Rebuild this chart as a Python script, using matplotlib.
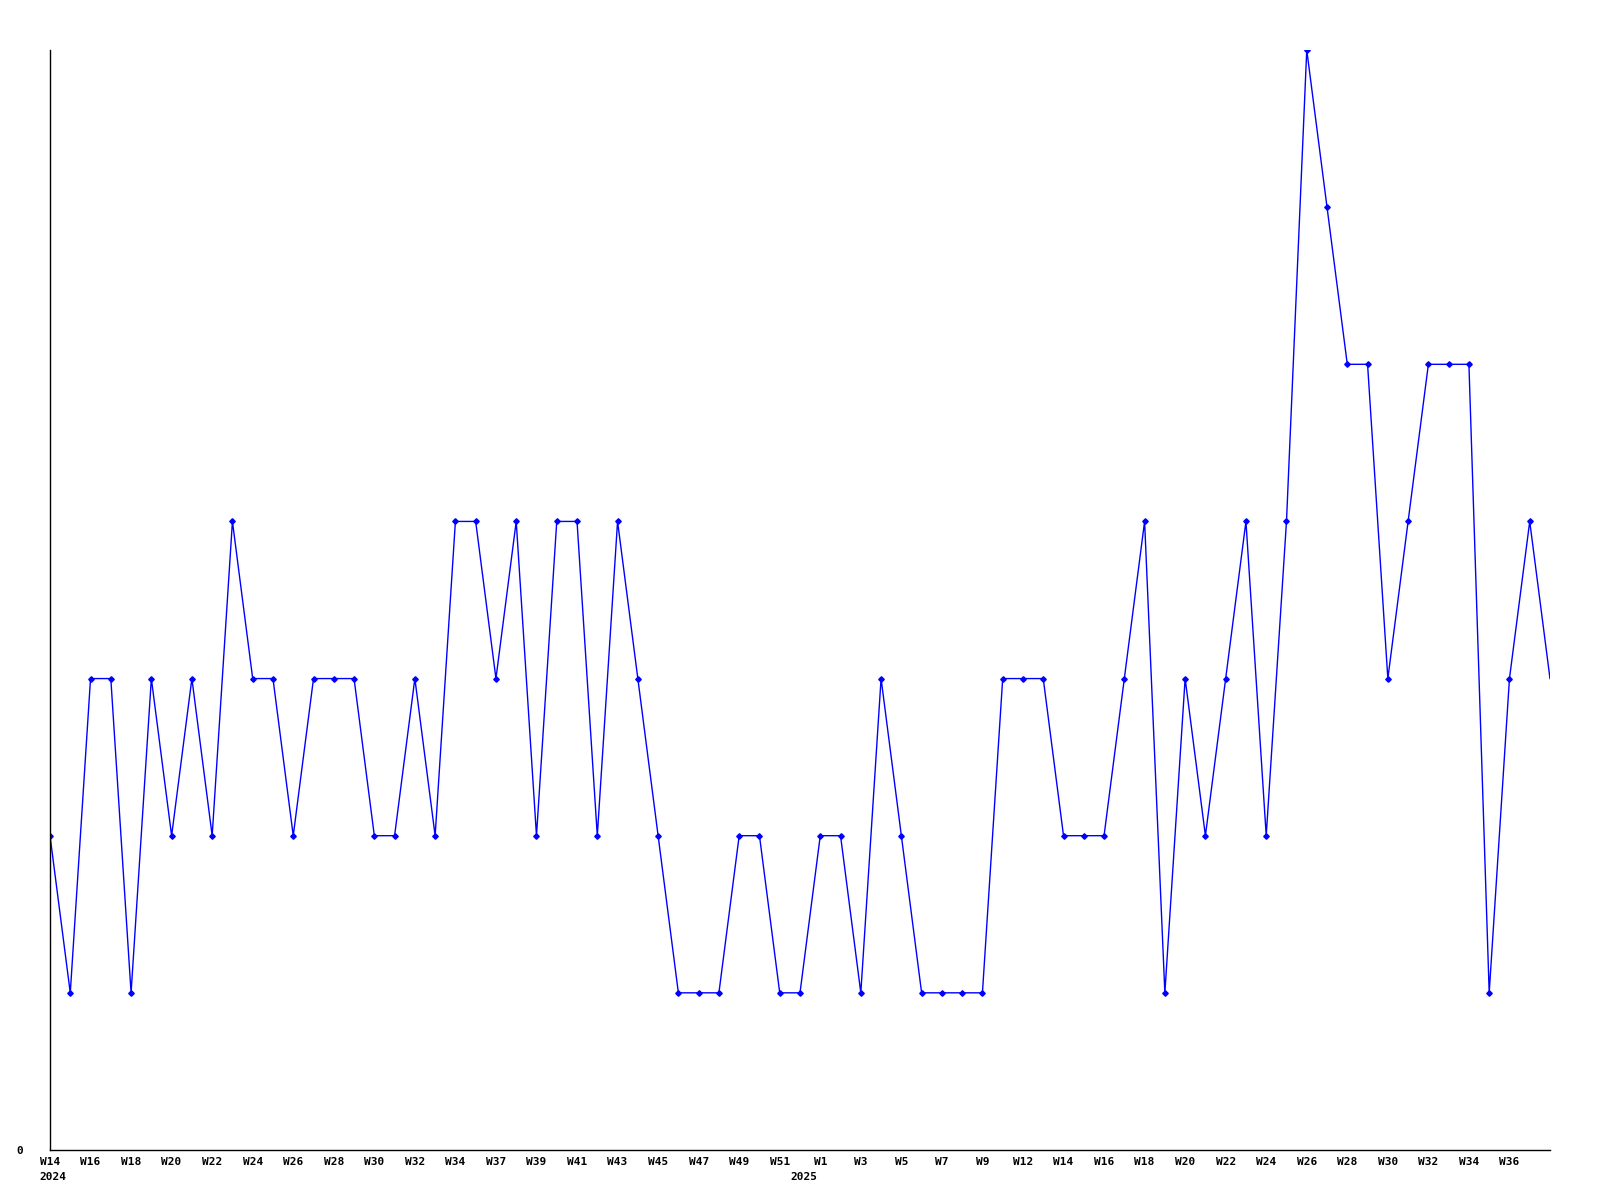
import numpy as np
import matplotlib
matplotlib.use("Agg")
import matplotlib.pyplot as plt

# week number of every point (two weeks are absent from the source)
weeks_2024 = [14, 15, 16, 17, 18, 19, 20, 21, 22, 23, 24, 25, 26, 27, 28, 29, 30,
              31, 32, 33, 34, 35, 37, 38, 39, 40, 41, 42, 43, 44, 45, 46, 47, 48,
              49, 50, 51, 52]
weeks_2025 = [1, 2, 3, 4, 5, 6, 7, 8, 9, 10, 12, 13, 14, 15, 16, 17, 18, 19, 20,
              21, 22, 23, 24, 25, 26, 27, 28, 29, 30, 31, 32, 33, 34, 35, 36, 37, 38]

counts = [2, 1, 3, 3, 1, 3, 2, 3, 2, 4, 3, 3, 2, 3, 3, 3, 2, 2, 3, 2,
          4, 4, 3, 4, 2, 4, 4, 2, 4, 3, 2, 1, 1, 1, 2, 2, 1, 1,
          2, 2, 1, 3, 2, 1, 1, 1, 1, 3, 3, 3, 2, 2, 2, 3, 4, 1, 3, 2, 3, 4,
          2, 4, 7, 6, 5, 5, 3, 4, 5, 5, 5, 1, 3, 4, 3]

years = ["2024", "2025"]

labels = ["W%d" % w for w in weeks_2024] + ["W%d" % w for w in weeks_2025]
x = np.arange(len(counts))

fig = plt.figure(figsize=(16, 12), dpi=100)
ax = fig.add_axes([0.03125, 0.0417, 0.9375, 0.9166])

# last point is drawn without a marker, as in the source chart
ax.plot(x, counts, color="#0000ff", linewidth=1.0, marker="D", markersize=2.8,
        markevery=list(range(len(counts) - 1)))

ax.set_xlim(0, len(counts) - 1)
ax.set_ylim(0, max(counts))

font = dict(family="DejaVu Sans Mono", fontweight="bold", fontsize=8)

# a label on every other week, but not on the final point
tick_pos = x[:-1:2]
tick_lab = labels[:-1:2]
ax.set_xticks(tick_pos)
ax.set_xticklabels(tick_lab, **font)
ax.tick_params(axis="x", length=0, pad=5)
ax.set_yticks([0])
ax.set_yticklabels(["0"], **font)
ax.tick_params(axis="y", length=0, pad=19)

# year labels under the first week of each year
year_start = [0, len(weeks_2024)]
for pos, yr in zip(year_start, years):
    ax.annotate(yr, xy=(pos, 0), xycoords=("data", "axes fraction"),
                xytext=(-12 if pos else 2, -16), textcoords="offset points",
                ha="center", va="top", **font)

for side in ["top", "right"]:
    ax.spines[side].set_visible(False)
ax.spines["left"].set_linewidth(1.0)
ax.spines["bottom"].set_linewidth(1.0)

fig.savefig("out.png", dpi=100)
